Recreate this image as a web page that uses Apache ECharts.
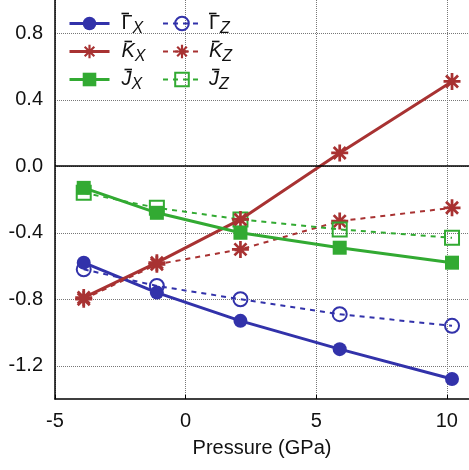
<!DOCTYPE html>
<html>
<head>
<meta charset="utf-8">
<script src="https://cdn.jsdelivr.net/npm/echarts@6/dist/echarts.min.js"></script>
<style>
  html, body { margin: 0; padding: 0; background: #fff; }
  #chart { width: 469px; height: 470px; }
</style>
</head>
<body>
<div id="chart"></div>
<script>
// values
const pressure = [-3.9, -1.1, 2.1, 5.9, 10.2]
const gammaX = [-0.58, -0.76, -0.93, -1.10, -1.28]
const gammaZ = [-0.62, -0.72, -0.80, -0.89, -0.96]
const kX = [-0.79, -0.58, -0.32, 0.08, 0.51]
const kZ = [-0.80, -0.59, -0.50, -0.33, -0.25]
const jX = [-0.13, -0.28, -0.40, -0.49, -0.58]
const jZ = [-0.16, -0.25, -0.32, -0.38, -0.43]
const yTicks = [-1.2, -0.8, -0.4, 0.0, 0.4, 0.8]
const xTicks = [-5, 0, 5, 10]

const BLUE = '#3232aa'
const RED = '#a83232'
const GREEN = '#32aa32'
const FONT = '"Liberation Sans", Arial, sans-serif'

// asterisk drawn as four bars
const STAR = 'path://M0 42L100 42L100 58L0 58Z M42 0L58 0L58 100L42 100Z ' +
    'M20.3 9L91 79.7L79.7 91L9 20.3Z M79.7 9L91 20.3L20.3 91L9 79.7Z'

const pts = vals => vals.map((v, i) => [pressure[i], v])

// first line: the bar over the letter, second line: letter + subscript
const labels = {
    GX: '{b| }\n{g|Γ}{s|X}',
    GZ: '{b| }\n{g|Γ}{s|Z}',
    KX: '{p| }{b| }\n{m|K}{s|X}',
    KZ: '{p| }{b| }\n{m|K}{s|Z}',
    JX: '{p| }{b| }\n{m|J}{s|X}',
    JZ: '{p| }{b| }\n{m|J}{s|Z}'
}

const mkSeries = (name, vals, color, solid, symbol, filled, size) => ({
    name,
    type: 'line',
    data: pts(vals),
    symbol,
    symbolSize: size,
    showAllSymbol: true,
    z: solid ? 4 : 3,
    lineStyle: { color, width: solid ? 3 : 2, type: solid ? 'solid' : [5, 5] },
    itemStyle: filled
        ? { color, borderWidth: 0 }
        : { color: 'rgba(0,0,0,0)', borderColor: color, borderWidth: 2 }
})

const richText = {
    b: { width: 7.5, height: 1.6, lineHeight: 6, backgroundColor: '#111', fontSize: 4 },
    p: { width: 3, height: 1.6, lineHeight: 6, fontSize: 4 },
    g: { fontSize: 20, lineHeight: 20, fontFamily: FONT, color: '#111', verticalAlign: 'bottom', padding: [0, 0, 3, 0] },
    m: { fontSize: 20, lineHeight: 20, fontStyle: 'italic', fontFamily: FONT, color: '#111', verticalAlign: 'bottom', padding: [0, 0, 3, 0] },
    s: { fontSize: 16, lineHeight: 16, fontStyle: 'italic', fontFamily: FONT, color: '#111', verticalAlign: 'bottom' }
}

const mkLegend = (names, left, width, gap, lineWidth) => ({
    data: names.map(name => ({ name, lineStyle: { width: lineWidth } })),
    orient: 'vertical',
    left,
    top: 11.5,
    padding: 0,
    itemWidth: width,
    itemHeight: 17,
    itemGap: 3,
    formatter: n => labels[n],
    textStyle: { fontFamily: FONT, color: '#111', padding: [0, 0, 0, gap], rich: richText }
})

const series = [
    mkSeries('GZ', gammaZ, BLUE, false, 'circle', false, 14),
    mkSeries('KZ', kZ, RED, false, STAR, true, 17),
    mkSeries('JZ', jZ, GREEN, false, 'rect', false, 14),
    mkSeries('GX', gammaX, BLUE, true, 'circle', true, 14),
    mkSeries('KX', kX, RED, true, STAR, true, 17),
    mkSeries('JX', jX, GREEN, true, 'rect', true, 14)
]
series[0].markLine = {
    silent: true,
    symbol: ['none', 'none'],
    label: { show: false },
    lineStyle: { color: '#000', width: 1.5, type: 'solid' },
    data: [{ yAxis: 0 }]
}

const chart = echarts.init(document.getElementById('chart'))
chart.setOption({
    animation: false,
    backgroundColor: '#fff',
    grid: { left: 55, right: 0, top: 0, bottom: 71 },
    legend: [
        mkLegend(['GX', 'KX', 'JX'], 68, 40, 7, 3),
        mkLegend(['GZ', 'KZ', 'JZ'], 162, 38, 3, 2)
    ],
    xAxis: {
        type: 'value',
        min: -5,
        max: 10.85,
        interval: 5,
        name: 'Pressure (GPa)',
        nameLocation: 'middle',
        nameGap: 39,
        nameTextStyle: { fontFamily: FONT, fontSize: 20, color: '#111' },
        axisLine: { onZero: false, lineStyle: { color: '#000', width: 1.5 } },
        axisTick: { inside: true, length: 4, lineStyle: { color: '#000' } },
        axisLabel: {
            showMaxLabel: false,
            margin: 12,
            fontFamily: FONT,
            fontSize: 20,
            color: '#111',
            formatter: v => xTicks.includes(v) ? String(v) : ''
        },
        splitLine: { show: true, lineStyle: { color: '#777', type: 'dotted', width: 1 } }
    },
    yAxis: {
        type: 'value',
        min: -1.4,
        max: 1.0,
        interval: 0.2,
        axisLine: { show: true, onZero: false, lineStyle: { color: '#000', width: 1.5 } },
        axisTick: { show: false },
        axisLabel: {
            margin: 12,
            fontFamily: FONT,
            fontSize: 20,
            color: '#111',
            formatter: v => {
                const t = yTicks.find(y => Math.abs(y - v) < 1e-6)
                return t === undefined ? '' : t.toFixed(1)
            }
        },
        splitLine: { show: true, lineStyle: { color: ['rgba(0,0,0,0)', '#777'], type: 'dotted', width: 1 } }
    },
    series
})
</script>
</body>
</html>
